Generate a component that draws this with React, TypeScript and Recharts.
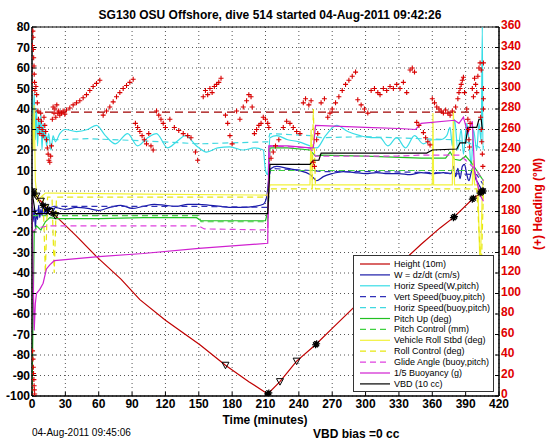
import React from 'react';
import { ComposedChart, Line, XAxis, YAxis, CartesianGrid, ReferenceArea } from 'recharts';

type Pt = [number, number];

const TIME_TICKS = [0, 30, 60, 90, 120, 150, 180, 210, 240, 270, 300, 330, 360, 390, 420];
const LEFT_TICKS = [-100, -90, -80, -70, -60, -50, -40, -30, -20, -10, 0, 10, 20, 30, 40, 50, 60, 70, 80];
const RIGHT_TICKS = [0, 20, 40, 60, 80, 100, 120, 140, 160, 180, 200, 220, 240, 260, 280, 300, 320, 340, 360];

// left-axis series, [minutes, value]
const HEIGHT: Pt[] = [[0, 0], [3, -2], [8, -5], [14, -9], [21, -12], [40, -22], [58, -32], [80, -43], [97, -53], [120, -63], [151, -75], [174, -85], [195, -93], [212, -99], [223, -93], [238, -83], [255, -75], [270, -67], [289, -57], [310, -46], [330, -36], [350, -26], [367, -18], [379, -13], [396, -4], [406, 0]];
const W_DZDT: Pt[] = [[0, -12], [1, -15], [2, -8], [3, -18], [4, -11], [5, -14], [6, -7], [7, -13], [8, -9], [9, -12], [10, -6], [11, -11], [12, -8], [13, -12], [14, -7], [15, -10], [17, -8], [19, -9.5], [21, -8], [25, -8.5], [30, -9], [40, -8], [50, -8.5], [60, -9.5], [70, -8], [80, -7], [90, -8.5], [100, -7.5], [110, -6.5], [120, -7], [130, -7.5], [140, -6.5], [150, -6.5], [160, -7], [170, -7.5], [180, -8], [190, -8], [200, -7.5], [208, -6.5], [211, -3], [213, 6], [215, 11], [220, 12], [230, 11], [240, 10], [250, 8], [253, 6.5], [256, 5], [262, 7], [270, 8.5], [280, 9.5], [290, 9], [300, 8.5], [310, 9], [320, 8.5], [330, 8.5], [340, 8], [350, 9], [360, 8.5], [370, 9], [377, 8.5], [379, 12], [381, 7], [383, 11], [385, 6], [387, 12], [389, 13], [391, 8], [393, 5], [395, 9], [397, 12], [399, 6], [401, 4], [403, 2], [405, 0], [406, -1]];
const HSPD_W: Pt[] = [[0, 45], [1, 30], [2, 48], [3, 25], [4, 40], [5, 22], [6, 35], [7, 28], [8, 38], [9, 20], [10, 33], [11, 25], [12, 30], [13, 22], [15, 28], [17, 20], [19, 27], [21, 24], [25, 28], [30, 30], [40, 29], [50, 30], [58, 32], [66, 27], [75, 23], [86, 28], [95, 22], [104, 26], [112, 28], [122, 21], [130, 24], [138, 27], [148, 22], [157, 19], [167, 21], [178, 21.5], [190, 20], [200, 21], [208, 20], [210, 10], [212, 8], [214, 26], [220, 27], [230, 25], [240, 24], [250, 22], [256, 21], [264, 27], [274, 32], [284, 29], [295, 27], [305, 26], [313, 26], [320, 22], [328, 26], [336, 21], [344, 27], [352, 23], [360, 25], [367, 25], [373, 27], [376, 31], [378, 22], [380, 35], [383, 20], [386, 30], [388, 18], [391, 33], [393, 25], [395, 12], [397, 30], [400, 20], [402, 33], [404, 24], [405, 80], [405.5, 20], [406, 22]];
const VSPD_BUOY: Pt[] = [[0, -10], [20, -7.5], [100, -7.5], [150, -7.5], [212, -8], [214, 11], [250, 10], [260, 9.5], [300, 9.5], [360, 9], [400, 8], [406, 3]];
const HSPD_BUOY: Pt[] = [[3, 30], [10, 27], [20, 25], [50, 25.5], [100, 24.5], [150, 23], [212, 24], [214, 28], [250, 27], [260, 26], [300, 26.5], [350, 25.5], [380, 25], [390, 24], [400, 22], [406, 20]];
const PITCH: Pt[] = [[0, -100], [1, -60], [2, -20], [4, -17], [8, -19], [12, -15], [16, -13], [22, -13.5], [60, -13.5], [100, -13], [148, -13], [152, -14.5], [210, -14.5], [212, -10], [214, 21], [230, 21], [250, 20], [255, 17], [260, 17.5], [300, 17], [350, 16], [372, 16], [376, 19], [380, 15.5], [385, 15], [390, 17], [395, 14], [400, 10], [406, 5]];
const PITCH_CTL: Pt[] = [[0, -12], [150, -12], [152, -15], [212, -15], [214, 10], [400, 10], [403, 7], [406, 6]];
const ROLL: Pt[] = [[0, 38], [1, 20], [2, 42], [3, 5], [5, -5], [8, -3], [12, -1], [20, -1], [100, -1.5], [212, -2], [214, 3], [250, 3], [251, 30], [252, 3], [300, 3], [360, 3], [360.6, 38], [361.2, 3], [378, 3], [379, 39], [380, 3], [396, 3], [397, 15], [398, 3], [401, 3], [403, -40], [405, 0], [406, 5]];
const ROLL_CTL: Pt[] = [[0, -2], [10, -3], [12, -40], [14, -3], [18, -3], [20, -40], [22, -3], [212, -3], [214, 1], [252, 1], [253, 40], [255, 1], [400, 1], [404, -40], [406, 0]];
const GLIDE: Pt[] = [[0, -20], [5, -18], [15, -17], [150, -17], [155, -18.5], [212, -19], [214, 22], [250, 21], [255, 17], [330, 17], [350, 17.5], [385, 17.5], [390, 15], [400, 10], [406, 5]];
const BUOYANCY: Pt[] = [[0, -3], [1, -40], [2, -68], [3, -55], [4, -50], [7, -48], [10, -45], [13, -38], [16, -36], [20, -34], [60, -32], [100, -30.5], [150, -28], [212, -25.5], [213, 22], [230, 22], [250, 21], [253, 21], [255, 32], [300, 31], [330, 30.5], [345, 30], [350, 33], [380, 34.5], [384, 33], [388, 36], [392, 28], [396, 34], [398, 10], [400, 5], [403, -2], [406, -5]];
const VBD: Pt[] = [[0, 0], [3, -11], [212, -11], [214, 13], [250, 13], [253, 15], [258, 15], [260, 18.5], [355, 18.5], [360, 20], [382, 20.5], [385, 23.5], [390, 23.5], [392, 31], [400, 31], [402, 35], [404, 35], [405, 30]];

// marker positions on the height trace
const TRIANGLES: Pt[] = [[1, -0.5], [4, -2.5], [8, -5], [12, -8], [16, -10], [21, -12], [174, -85], [223, -93], [238, -83]];
const STARS: Pt[] = [[0, 0], [2, -1.5], [10, -7], [14, -9], [19, -11], [212, -99], [213, -98.5], [255, -75], [256, -74.5], [379, -13], [380, -12.5], [396, -4], [397, -3.5], [403, -1], [404, -0.5], [405, 0], [406, 0]];

// right-axis series, [minutes, heading deg]
const HEADING_TARGET: Pt[] = [[0, 277], [407, 277]];
const HEADING: Pt[] = [
  [0.3, 342], [0.8, 356], [1.0, 350], [1.2, 338], [1.5, 330], [1.8, 322], [2.0, 314], [2.3, 306], [2.6, 298],
  [0.5, 44], [0.9, 36], [1.2, 28], [1.4, 22], [1.7, 16], [1.9, 10], [2.1, 6], [2.4, 2],
  [3.5, 302], [4.2, 294], [4.8, 286], [5.3, 278], [5.8, 270], [6.5, 262], [7.0, 256], [7.8, 276], [8.5, 268], [9.2, 260], [10, 254],
  [10.8, 272], [11.5, 264], [12.3, 258], [13, 250], [13.8, 242], [14.5, 236], [15.2, 230], [16, 228], [16.8, 234], [17.5, 244],
  [18.3, 270], [19, 282], [19.8, 276], [20.6, 280], [21.4, 272], [22.3, 284], [23.2, 276], [24, 278], [25, 274], [26.5, 276], [28, 278], [29.5, 275], [31, 279],
  [34, 281], [37, 284], [40, 286], [43, 288], [46, 291], [49, 294], [52, 298], [55, 302], [58, 305], [61, 308],
  [64, 274], [67, 278], [70, 282], [73, 287], [76, 292], [79, 296], [82, 300], [85, 303], [88, 306], [91, 309],
  [93, 266], [95, 262], [97, 258], [99, 254], [101, 250], [103, 246], [105, 256], [107, 244], [109, 240],
  [112, 278], [114, 274], [116, 270], [118, 266], [120, 262],
  [124, 270], [128, 262], [132, 259], [136, 256], [140, 254], [143, 252], [147, 238], [149, 230],
  [154, 292], [156, 298], [158, 294], [160, 300], [162, 296], [164, 302], [166, 304], [168, 306], [170, 310],
  [174, 274], [176, 266], [178, 254], [180, 246],
  [184, 278], [187, 270], [190, 282], [193, 288], [195, 294], [197, 292], [198, 282],
  [200, 256], [202, 260], [204, 264], [206, 266], [208, 272], [210, 270], [212, 266], [213, 262],
  [215, 232], [217, 238], [219, 244], [222, 250], [226, 262], [229, 268], [232, 266], [235, 262], [238, 258], [241, 256],
  [244, 286], [246, 290], [249, 284], [251, 288], [253, 228], [254, 224], [256, 250], [257, 256],
  [260, 286], [263, 290], [266, 272], [268, 276], [270, 280], [273, 286], [276, 292], [279, 298], [282, 304], [285, 308], [288, 312], [291, 316],
  [293, 289], [296, 284], [299, 280], [302, 276], [305, 298], [308, 300], [311, 296],
  [313, 294], [316, 300], [319, 298], [322, 302], [325, 300], [328, 304], [331, 300], [334, 306], [337, 296],
  [340, 318], [342, 320], [344, 316], [346, 267], [348, 264],
  [352, 257], [354, 252], [356, 248], [358, 245], [360, 290], [362, 286], [364, 282], [366, 280], [368, 278], [370, 276], [372, 279], [374, 276], [376, 274], [378, 278],
  [381, 282], [383, 290], [384, 296], [385, 300], [386, 304], [387, 308], [388, 311], [389, 296],
  [391, 280], [392, 270], [392.5, 260], [393, 250], [393.5, 243], [394, 266],
  [396, 300], [397, 292], [398, 310], [399, 304], [400, 296], [401, 312], [402, 320], [403, 325], [404, 318],
  [403.5, 272], [404, 260], [404.5, 248], [405, 236], [405.5, 224], [406, 325], [406, 300], [406, 290], [406, 280],
];

const SERIES = [
  { name: 'Height (10m)', data: HEIGHT, color: '#c00000', dash: undefined, smooth: false },
  { name: 'W = dz/dt (cm/s)', data: W_DZDT, color: '#1a1aa8', dash: undefined, smooth: true },
  { name: 'Horiz Speed(W,pitch)', data: HSPD_W, color: '#38dde6', dash: undefined, smooth: true },
  { name: 'Vert Speed(buoy,pitch)', data: VSPD_BUOY, color: '#3030b8', dash: '6 4', smooth: false },
  { name: 'Horiz Speed(buoy,pitch)', data: HSPD_BUOY, color: '#40d8e0', dash: '6 4', smooth: false },
  { name: 'Pitch Up (deg)', data: PITCH, color: '#22c022', dash: undefined, smooth: false },
  { name: 'Pitch Control (mm)', data: PITCH_CTL, color: '#40d040', dash: '6 4', smooth: false },
  { name: 'Vehicle Roll Stbd (deg)', data: ROLL, color: '#f2f23a', dash: undefined, smooth: false },
  { name: 'Roll Control (deg)', data: ROLL_CTL, color: '#e8e810', dash: '6 4', smooth: false },
  { name: 'Glide Angle (buoy,pitch)', data: GLIDE, color: '#e040e0', dash: '6 4', smooth: false },
  { name: '1/5 Buoyancy (g)', data: BUOYANCY, color: '#d020d0', dash: undefined, smooth: false },
  { name: 'VBD (10 cc)', data: VBD, color: '#000000', dash: undefined, smooth: false },
];

const rows = (pts: Pt[], key = 'v') => pts.map(([t, v]) => ({ t, [key]: v }));

const FONT = '"Liberation Sans", Arial, sans-serif';
const RED = '#e00000';

const PlusDot = (props: any) => {
  const { cx, cy, index } = props;
  if (cx == null || cy == null) return null;
  return <path key={`h${index}`} d={`M${cx - 2.5},${cy}h5M${cx},${cy - 2.5}v5`} stroke="#d80000" strokeWidth={1.1} />;
};

const TriDot = (props: any) => {
  const { cx, cy, index } = props;
  if (cx == null || cy == null) return null;
  return <path key={`tr${index}`} d={`M${cx - 3.5},${cy - 3}L${cx + 3.5},${cy - 3}L${cx},${cy + 3.5}Z`} fill="none" stroke="#000" strokeWidth={1} />;
};

const StarDot = (props: any) => {
  const { cx, cy, index } = props;
  if (cx == null || cy == null) return null;
  return (
    <path key={`st${index}`} d={`M${cx - 3.5},${cy}h7M${cx},${cy - 3.5}v7M${cx - 2.5},${cy - 2.5}l5,5M${cx - 2.5},${cy + 2.5}l5,-5`} stroke="#000" strokeWidth={1.2} />
  );
};

export default function App() {
  return (
    <div style={{ position: 'absolute', left: 0, top: 0, width: 546, height: 442, background: '#fff' }}>
      <ComposedChart width={546} height={442} margin={{ top: 27, right: 17, bottom: 22, left: 0 }} style={{ fontFamily: FONT }}>
        <CartesianGrid yAxisId="left" stroke="#555" strokeDasharray="1 3" />
        <XAxis
          type="number"
          dataKey="t"
          domain={[0, 420]}
          ticks={TIME_TICKS}
          interval={0}
          height={24}
          allowDataOverflow
          tickSize={-4}
          tickMargin={7}
          stroke="#000"
          tick={{ fill: '#000', fontSize: 12, fontWeight: 'bold' }}
        />
        <YAxis
          yAxisId="left"
          type="number"
          dataKey="v"
          domain={[-100, 80]}
          ticks={LEFT_TICKS}
          interval={0}
          width={32}
          allowDataOverflow
          tickSize={-4}
          tickMargin={6}
          stroke="#000"
          tick={{ fill: '#000', fontSize: 12, fontWeight: 'bold' }}
        />
        <YAxis
          yAxisId="right"
          orientation="right"
          type="number"
          dataKey="h"
          domain={[0, 360]}
          ticks={RIGHT_TICKS}
          interval={0}
          width={30}
          allowDataOverflow
          tickSize={-4}
          tickMargin={6}
          stroke="#000"
          tick={{ fill: RED, fontSize: 12, fontWeight: 'bold', dy: -2 }}
        />
        <ReferenceArea yAxisId="left" x1={0} x2={420} y1={-100} y2={80} fill="none" stroke="#000" strokeWidth={1} ifOverflow="visible" />

        <Line yAxisId="right" data={rows(HEADING_TARGET, 'h')} dataKey="h" stroke="#a00000" strokeWidth={1.2} strokeDasharray="8 5" dot={false} isAnimationActive={false} />

        {SERIES.map(s => (
          <Line
            key={s.name}
            yAxisId="left"
            type={s.smooth ? 'monotone' : 'linear'}
            data={rows(s.data)}
            dataKey="v"
            stroke={s.color}
            strokeWidth={1.2}
            strokeDasharray={s.dash}
            dot={false}
            activeDot={false}
            isAnimationActive={false}
          />
        ))}

        <Line yAxisId="left" data={rows(TRIANGLES)} dataKey="v" stroke="none" dot={TriDot} activeDot={false} isAnimationActive={false} />
        <Line yAxisId="left" data={rows(STARS)} dataKey="v" stroke="none" dot={StarDot} activeDot={false} isAnimationActive={false} />
        <Line yAxisId="right" data={rows(HEADING, 'h')} dataKey="h" stroke="none" dot={PlusDot} activeDot={false} isAnimationActive={false} />
      </ComposedChart>

      <svg width={546} height={442} style={{ position: 'absolute', left: 0, top: 0, pointerEvents: 'none', fontFamily: FONT }}>
        <text x={270} y={19} textAnchor="middle" fontSize={12} fontWeight="bold" fill="#000">
          SG130 OSU Offshore, dive 514 started 04-Aug-2011 09:42:26
        </text>
        <text x={265} y={424} textAnchor="middle" fontSize={12} fontWeight="bold" fill="#000">Time (minutes)</text>
        <text x={538} y={204} textAnchor="middle" dominantBaseline="central" fontSize={12} fontWeight="bold" fill={RED} transform="rotate(-90 538 204)">
          (+) Heading (°M)
        </text>
        <text x={32} y={436} fontSize={10} fill="#000">04-Aug-2011 09:45:06</text>
        <text x={313} y={438} fontSize={12} fontWeight="bold" fill="#000">VBD bias =0 cc</text>

        {/* legend box */}
        <rect x={353.5} y={255.5} width={140} height={136} fill="#fff" stroke="#333" strokeWidth={1} />
        {SERIES.map((s, i) => {
          const y = 264 + i * 10.9;
          return (
            <g key={s.name}>
              <line x1={360} x2={390} y1={y} y2={y} stroke={s.color} strokeWidth={1.2} strokeDasharray={s.dash} />
              <text x={394} y={y + 3} fontSize={9} fill="#000">{s.name}</text>
            </g>
          );
        })}
      </svg>
    </div>
  );
}
